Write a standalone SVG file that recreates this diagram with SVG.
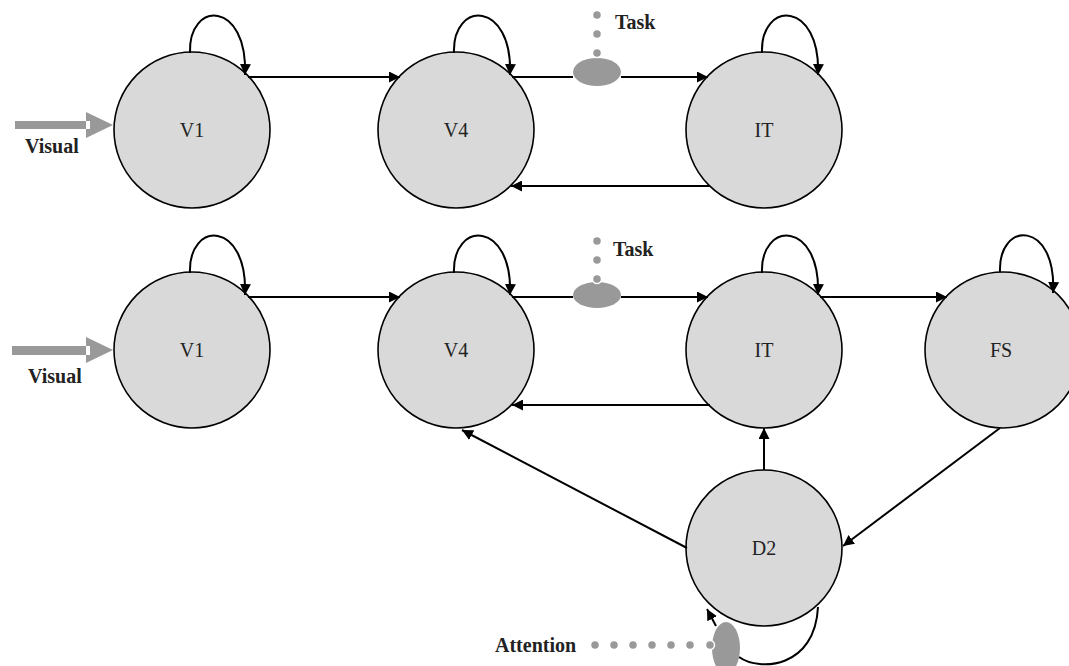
<svg xmlns="http://www.w3.org/2000/svg" width="1069" height="666" viewBox="0 0 1069 666">
<style>
.node{fill:#d9d9d9;stroke:#000;stroke-width:1.6}
.lbl{font-family:"Liberation Serif",serif;font-size:20px;text-anchor:middle;fill:#222}
.bl{font-family:"Liberation Serif",serif;font-size:20px;font-weight:bold;fill:#222}
.ln{fill:none;stroke:#000;stroke-width:2}
.gray{fill:#999}
.dot{fill:#999;stroke:#fff;stroke-width:1.5}
</style>
<defs>
<marker id="ah" viewBox="0 0 10 10" refX="10" refY="5" markerWidth="11" markerHeight="11" markerUnits="userSpaceOnUse" orient="auto">
<path d="M0,0 L10,5 L0,10 z" fill="#000"/>
</marker>
</defs>
<rect width="1069" height="666" fill="#fff"/>

<g id="inputs">
<rect x="15" y="121" width="71" height="8" class="gray"/>
<path d="M86,112 L113,125 L86,138 z" class="gray"/>
<rect x="86" y="121" width="4" height="8" fill="#fff"/>
<text x="25" y="153" class="bl">Visual</text>
<rect x="12" y="346" width="74" height="9" class="gray"/>
<path d="M86,337 L113,350 L86,363 z" class="gray"/>
<rect x="86" y="346" width="4" height="9" fill="#fff"/>
<text x="28" y="383" class="bl">Visual</text>
</g>

<g id="top-V1"><circle cx="192" cy="130" r="78" class="node"/><text x="192" y="137" class="lbl">V1</text></g>
<g id="top-V4"><circle cx="456" cy="130" r="78" class="node"/><text x="456" y="137" class="lbl">V4</text></g>
<g id="top-IT"><circle cx="764" cy="130" r="78" class="node"/><text x="764" y="137" class="lbl">IT</text></g>

<g id="bot-V1"><circle cx="192" cy="350" r="78" class="node"/><text x="192" y="357" class="lbl">V1</text></g>
<g id="bot-V4"><circle cx="456" cy="350" r="78" class="node"/><text x="456" y="357" class="lbl">V4</text></g>
<g id="bot-IT"><circle cx="764" cy="350" r="78" class="node"/><text x="764" y="357" class="lbl">IT</text></g>
<g id="bot-FS"><circle cx="1003" cy="350" r="78" class="node"/><text x="1001" y="357" class="lbl">FS</text></g>
<g id="D2"><circle cx="764" cy="548" r="78" class="node"/><text x="764" y="555" class="lbl">D2</text></g>

<g id="connectors">
<!-- top row -->
<path d="M190,53 C188,0 248,0 245,75" class="ln" marker-end="url(#ah)"/>
<path d="M454,53 C452,0 513,0 510,75" class="ln" marker-end="url(#ah)"/>
<path d="M762,53 C760,0 821,0 818,75" class="ln" marker-end="url(#ah)"/>
<path d="M248,77 L400,77" class="ln" marker-end="url(#ah)"/>
<path d="M512,77 L573,77" class="ln"/>
<path d="M621,77 L708,77" class="ln" marker-end="url(#ah)"/>
<path d="M710,186 L511,186" class="ln" marker-end="url(#ah)"/>
<!-- bottom row -->
<path d="M190,273 C188,220 248,220 245,295" class="ln" marker-end="url(#ah)"/>
<path d="M454,273 C452,220 513,220 510,295" class="ln" marker-end="url(#ah)"/>
<path d="M762,273 C760,220 821,220 818,295" class="ln" marker-end="url(#ah)"/>
<path d="M1000,272 C998,220 1057,220 1053,293" class="ln" marker-end="url(#ah)"/>
<path d="M248,297 L400,297" class="ln" marker-end="url(#ah)"/>
<path d="M512,297 L573,297" class="ln"/>
<path d="M621,297 L708,297" class="ln" marker-end="url(#ah)"/>
<path d="M820,297 L947,297" class="ln" marker-end="url(#ah)"/>
<path d="M710,405 L512,405" class="ln" marker-end="url(#ah)"/>
<path d="M687,548 L462,430" class="ln" marker-end="url(#ah)"/>
<path d="M764,470 L764,428" class="ln" marker-end="url(#ah)"/>
<path d="M1000,428 L843,546" class="ln" marker-end="url(#ah)"/>
<path d="M739,657 C760,672 815,668 818,607" class="ln"/>
<path d="M716,626 L707,609" class="ln" marker-end="url(#ah)"/>
</g>

<g id="task-top">
<ellipse cx="597" cy="72" rx="24" ry="14" class="gray"/>
<circle cx="597" cy="15" r="4.5" class="dot"/>
<circle cx="597" cy="34" r="4.5" class="dot"/>
<circle cx="597" cy="53" r="4.5" class="dot"/>
<text x="615" y="29" class="bl">Task</text>
</g>
<g id="task-bottom">
<ellipse cx="597" cy="295" rx="24" ry="13" class="gray"/>
<circle cx="597" cy="241" r="4.5" class="dot"/>
<circle cx="597" cy="260" r="4.5" class="dot"/>
<circle cx="597" cy="279" r="4.5" class="dot"/>
<text x="613" y="256" class="bl">Task</text>
</g>
<g id="attention">
<ellipse cx="726" cy="648" rx="14" ry="26" class="gray"/>
<circle cx="595" cy="645" r="4.5" class="dot"/>
<circle cx="614" cy="645" r="4.5" class="dot"/>
<circle cx="633" cy="645" r="4.5" class="dot"/>
<circle cx="652" cy="645" r="4.5" class="dot"/>
<circle cx="671" cy="645" r="4.5" class="dot"/>
<circle cx="690" cy="645" r="4.5" class="dot"/>
<circle cx="710" cy="645" r="4.5" class="dot"/>
<text x="495" y="652" class="bl">Attention</text>
</g>
</svg>
